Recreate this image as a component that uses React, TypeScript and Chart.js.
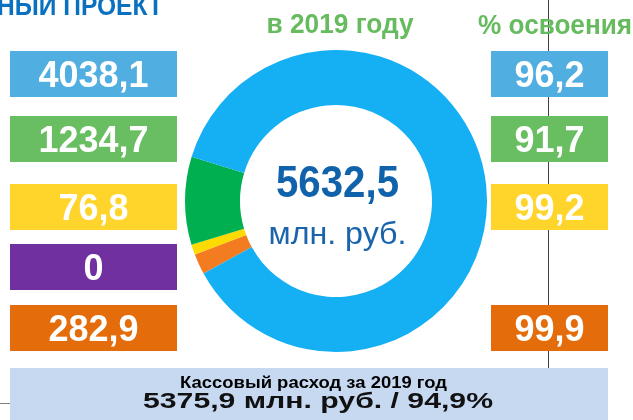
import React, { useEffect, useRef } from 'react';
import { Chart, registerables } from 'chart.js';

Chart.register(...registerables);

// ---- data ----
const categories = ['Сегмент 1', 'Сегмент 2', 'Сегмент 3', 'Сегмент 4', 'Сегмент 5'];
const plannedValues = [4038.1, 1234.7, 76.8, 0, 282.9]; // млн. руб. (left boxes)
const masteredPct: (number | null)[] = [96.2, 91.7, 99.2, null, 99.9]; // % освоения (right boxes)
const ringShares = [87.3, 9.4, 1.1, 0, 2.2]; // share of the ring as drawn, %
const totalPlanned = 5632.5;
const cashSpent = 5375.9;
const cashPct = 94.9;
const headerText = 'НЫЙ ПРОЕКТ';
const yearTitle = 'в 2019 году';
const pctTitle = '% освоения';
const unitText = 'млн. руб.';
const cashTitle = 'Кассовый расход за 2019 год';

// ---- styles ----
const ringColors = ['#15AFF3', '#00B050', '#FFDA00', '#7030A0', '#F47C20'];
const boxColors = ['#51AEE0', '#69BE62', '#FFD42B', '#7030A0', '#E46C0A'];
const FONT = '"Liberation Sans", Arial, sans-serif';

const fmt = (v: number) => (v === 0 ? '0' : v.toFixed(1).replace('.', ','));

function drawText(
  ctx: CanvasRenderingContext2D,
  text: string,
  cx: number,
  baseline: number,
  font: string,
  color: string,
  width?: number
) {
  ctx.save();
  ctx.font = font;
  ctx.fillStyle = color;
  ctx.textAlign = 'center';
  ctx.textBaseline = 'alphabetic';
  let sx = 1;
  if (width) sx = width / ctx.measureText(text).width;
  ctx.translate(cx, baseline);
  ctx.scale(sx, 1);
  ctx.fillText(text, 0, 0);
  ctx.restore();
}

const rowTops = [51, 116, 184, 244, 305];
const rowH = 46;

const overlayPlugin = {
  id: 'overlay',
  afterDraw(chart: any) {
    const ctx: CanvasRenderingContext2D = chart.ctx;
    ctx.save();
    // divider lines
    ctx.strokeStyle = '#404040';
    ctx.lineWidth = 1;
    ctx.beginPath();
    ctx.moveTo(548.5, 0);
    ctx.lineTo(548.5, 368);
    ctx.stroke();
    ctx.strokeStyle = '#808080';
    ctx.beginPath();
    ctx.moveTo(0, 403.5);
    ctx.lineTo(12, 403.5);
    ctx.stroke();

    // header texts
    ctx.save();
    ctx.font = `bold 28px ${FONT}`;
    ctx.fillStyle = '#0A70C0';
    ctx.textAlign = 'right';
    const w = ctx.measureText(headerText).width;
    ctx.translate(163, 15);
    ctx.scale(166 / w, 1);
    ctx.fillText(headerText, 0, 0);
    ctx.restore();

    drawText(ctx, yearTitle, 340, 33, `bold 27px ${FONT}`, '#66BB5E', 147);
    drawText(ctx, pctTitle, 555, 34, `bold 27px ${FONT}`, '#66BB5E', 154);

    // value boxes
    plannedValues.forEach((v, i) => {
      const top = rowTops[i];
      ctx.fillStyle = boxColors[i];
      ctx.fillRect(10, top, 167, rowH);
      drawText(ctx, fmt(v), 93.5, top + rowH / 2 + 13, `bold 36px ${FONT}`, '#FFFFFF');
      const p = masteredPct[i];
      if (p !== null) {
        ctx.fillStyle = boxColors[i];
        ctx.fillRect(491, top, 117, rowH);
        drawText(ctx, fmt(p), 549.5, top + rowH / 2 + 13, `bold 36px ${FONT}`, '#FFFFFF');
      }
    });

    // centre of the ring
    drawText(ctx, fmt(totalPlanned), 337.5, 197, `bold 44px ${FONT}`, '#1062AA', 123);
    drawText(ctx, unitText, 337.5, 244, `31px ${FONT}`, '#1A64AC', 138);

    // bottom summary
    ctx.fillStyle = '#C6D9F1';
    ctx.fillRect(10, 368, 598, 52);
    drawText(ctx, cashTitle, 313.5, 388, `bold 17px ${FONT}`, '#000000', 267);
    drawText(
      ctx,
      `${fmt(cashSpent)} млн. руб. / ${fmt(cashPct)}%`,
      318,
      408,
      `bold 22px ${FONT}`,
      '#111111',
      350
    );
    ctx.restore();
  },
};

export default function App() {
  const ref = useRef<HTMLCanvasElement | null>(null);

  useEffect(() => {
    if (!ref.current) return;
    // ring drawn clockwise starting with the last segment
    const order = [4, 3, 2, 1, 0];
    const chart = new Chart(ref.current, {
      type: 'doughnut',
      data: {
        labels: order.map((i) => categories[i]),
        datasets: [
          {
            data: order.map((i) => ringShares[i]),
            backgroundColor: order.map((i) => ringColors[i]),
            borderWidth: 0,
            hoverOffset: 0,
          },
        ],
      },
      options: {
        responsive: false,
        animation: false,
        cutout: '63.6%',
        rotation: 241.3,
        layout: { padding: { left: 185, right: 146, top: 50, bottom: 68 } },
        plugins: {
          legend: { display: false },
          tooltip: { enabled: false },
          title: { display: false },
        },
        events: [],
      },
      plugins: [overlayPlugin],
    });
    return () => chart.destroy();
  }, []);

  return (
    <div
      style={{
        position: 'fixed',
        left: 0,
        top: 0,
        width: 633,
        height: 420,
        background: '#FFFFFF',
        overflow: 'hidden',
      }}
    >
      <canvas ref={ref} width={633} height={420} style={{ display: 'block', width: 633, height: 420 }} />
    </div>
  );
}
